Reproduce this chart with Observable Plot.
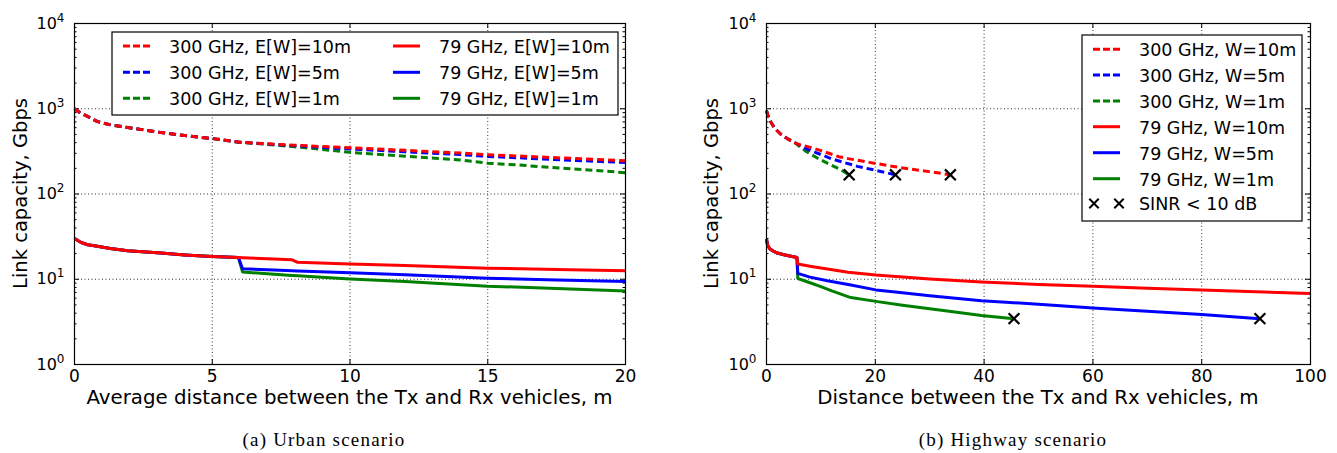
<!DOCTYPE html>
<html>
<head>
<meta charset="utf-8">
<script src="https://cdn.jsdelivr.net/npm/d3@7"></script>
<script src="https://cdn.jsdelivr.net/npm/@observablehq/plot@0.6"></script>
<style>
  body { margin: 0; background: #fff; }
  #root { position: relative; width: 1337px; height: 453px; overflow: hidden; background: #fff; }
  .panel { position: absolute; top: 0; }
  #overlay { position: absolute; left: 0; top: 0; pointer-events: none; }
</style>
</head>
<body>
<div id="root"></div>
<script>
// ---------- axis ticks ----------
const yMajor = [1, 10, 100, 1000, 10000];
const yMinor = [2,3,4,5,6,7,8,9,20,30,40,50,60,70,80,90,200,300,400,500,600,700,800,900,2000,3000,4000,5000,6000,7000,8000,9000];
const urbanXTicks = [0, 5, 10, 15, 20];
const highwayXTicks = [0, 20, 40, 60, 80, 100];

// ---------- (a) Urban scenario ----------
const urbanDashX = [0, 0.2, 0.42, 0.84, 1.32, 1.93, 3.14, 4, 5, 6, 7, 8, 9, 10, 12, 14, 15, 16, 18, 20];
const urban300W10 = [1000, 900, 830, 706, 646, 603, 525, 485, 447, 405, 388, 373, 360, 349, 325, 303, 289, 280, 262, 246];
const urban300W5  = [1000, 900, 830, 706, 646, 603, 525, 485, 447, 405, 386, 368, 352, 338, 312, 290, 276, 267, 249, 234];
const urban300W1  = [1000, 900, 830, 706, 646, 603, 525, 485, 447, 403, 382, 358, 333, 308, 278, 250, 230, 220, 198, 178];

const urbanSolidX = [0, 0.24, 0.48, 0.72, 1.3, 1.93, 3.14, 4, 5, 5.95, 6.1, 7, 7.9, 8.1, 10, 12, 15, 17.5, 20];
const urban79W10 = [30, 27, 25.4, 24.7, 23, 21.6, 20.3, 19.3, 18.5, 18.0, 17.9, 17.4, 16.9, 15.8, 15.1, 14.5, 13.5, 13.0, 12.6];
const urban79W5  = [30, 27, 25.4, 24.7, 23, 21.6, 20.3, 19.3, 18.5, 18.0, 13.3, 12.9, 12.6, 12.5, 11.9, 11.3, 10.3, 9.8, 9.4];
const urban79W1  = [30, 27, 25.4, 24.7, 23, 21.6, 20.3, 19.3, 18.5, 18.0, 12.2, 11.6, 11.1, 11.0, 10.1, 9.4, 8.3, 7.8, 7.3];

// ---------- (b) Highway scenario ----------
const hw300W10X = [0, 0.3, 0.8, 1.5, 2.58, 4, 5.66, 8.1, 10, 13.3, 15, 18.9, 24.4, 29.9, 33.8];
const hw300W10  = [950, 820, 700, 590, 506, 440, 386, 352, 323, 274, 260, 235, 205, 183, 168];
const hw300W5X  = [0, 0.3, 0.8, 1.5, 2.58, 4, 5.66, 7.5, 10, 12.1, 16.7, 20, 22.3, 23.7];
const hw300W5   = [950, 820, 700, 590, 506, 440, 386, 335, 290, 257, 211, 190, 176, 168];
const hw300W1X  = [0, 0.3, 0.8, 1.5, 2.58, 4, 5.2, 7.2, 9.35, 11.5, 13.65, 15.2];
const hw300W1   = [950, 820, 700, 590, 506, 440, 400, 318, 264, 224, 193, 168];

const hw79W10X = [0, 0.1, 0.25, 0.6, 1.35, 2, 3.2, 4.5, 5.6, 5.75, 8, 11.2, 15, 20.1, 30, 39.5, 50, 60, 70, 80, 90, 100];
const hw79W10  = [29.6, 27, 24.7, 22.8, 21.2, 20.3, 19.4, 18.6, 18.0, 15.1, 14.2, 13.2, 12.1, 11.2, 10.1, 9.3, 8.7, 8.25, 7.85, 7.5, 7.15, 6.8];
const hw79W5X  = [0, 0.1, 0.25, 0.6, 1.35, 2, 3.2, 4.5, 5.6, 5.75, 8, 11.2, 15.5, 20.1, 23.7, 30, 39.5, 50, 60, 70, 80, 90.7];
const hw79W5   = [29.6, 27, 24.7, 22.8, 21.2, 20.3, 19.4, 18.6, 18.0, 11.7, 10.6, 9.6, 8.55, 7.5, 7.1, 6.4, 5.6, 5.1, 4.6, 4.2, 3.85, 3.45];
const hw79W1X  = [0, 0.1, 0.25, 0.6, 1.35, 2, 3.2, 4.5, 5.6, 5.75, 8, 10, 12, 15.5, 20.1, 25, 30, 35, 39.5, 45.5];
const hw79W1   = [29.6, 27, 24.7, 22.8, 21.2, 20.3, 19.4, 18.6, 18.0, 10.2, 9.1, 8.2, 7.3, 6.1, 5.5, 4.95, 4.5, 4.1, 3.75, 3.45];

const crossX = [15.2, 23.7, 33.8, 45.5, 90.7];
const crossY = [168, 168, 168, 3.45, 3.45];

// ---------- labels ----------
const urbanLegend = ["300 GHz, E[W]=10m", "300 GHz, E[W]=5m", "300 GHz, E[W]=1m", "79 GHz, E[W]=10m", "79 GHz, E[W]=5m", "79 GHz, E[W]=1m"];
const highwayLegend = ["300 GHz, W=10m", "300 GHz, W=5m", "300 GHz, W=1m", "79 GHz, W=10m", "79 GHz, W=5m", "79 GHz, W=1m", "SINR < 10 dB"];
const colors = ["#ff0000", "#0000ff", "#008000"];
const DASH = "7,4";

const root = document.getElementById("root");
const H = 410, MT = 23, MB = 46;

function toRows(xs, ys) { return xs.map((x, i) => ({x, y: ys[i]})); }

function panel({left, width, marginLeft, marginRight, xDomain, xTicks, series, crosses}) {
  const iw = width - marginLeft - marginRight, ih = H - MT - MB;
  const grid = {stroke: "#000", strokeOpacity: 0.8, strokeDasharray: "1,2.5", strokeWidth: 1};
  const marks = [
    Plot.gridX(xTicks, grid),
    Plot.gridY(yMajor, grid),
    Plot.tickY(yMinor, {y: d => d, insetRight: iw - 2.5, stroke: "#000"}),
    Plot.tickY(yMinor, {y: d => d, insetLeft: iw - 2.5, stroke: "#000"}),
    Plot.tickY(yMajor, {y: d => d, insetRight: iw - 5, stroke: "#000"}),
    Plot.tickY(yMajor, {y: d => d, insetLeft: iw - 5, stroke: "#000"}),
    Plot.tickX(xTicks, {x: d => d, insetTop: ih - 5, stroke: "#000"}),
    Plot.tickX(xTicks, {x: d => d, insetBottom: ih - 5, stroke: "#000"}),
    ...series.map(s => Plot.line(toRows(s.x, s.y), {
      x: "x", y: "y", stroke: s.color, strokeWidth: 3,
      strokeDasharray: s.dash ? DASH : null, strokeLinecap: "butt"
    }))
  ];
  if (crosses) marks.push(Plot.dot(toRows(crosses.x, crosses.y), {x: "x", y: "y", symbol: "times", r: 5, stroke: "#000", strokeWidth: 2.2}));
  marks.push(
    Plot.frame({stroke: "#000", strokeWidth: 1.2}),
    Plot.axisX({ticks: xTicks, tickSize: 0, tickPadding: 5, fontSize: 17, label: null, tickFormat: d => String(d)}),
    Plot.axisY({ticks: yMajor, tickSize: 0, tickPadding: 10, fontSize: 16, label: null, tickFormat: d => String(Math.round(Math.log10(d)))})
  );
  const svg = Plot.plot({
    width, height: H, marginLeft, marginRight, marginTop: MT, marginBottom: MB,
    x: {domain: xDomain},
    y: {type: "log", domain: [1, 10000]},
    style: {fontFamily: "DejaVu Sans", color: "#000", background: "transparent", overflow: "visible"},
    marks
  });
  d3.select(svg).selectAll('g[aria-label="y-axis tick label"] text').each(function () {
    const e = this.textContent;
    const t = d3.select(this);
    t.text("10");
    t.append("tspan").attr("dy", "-7").attr("font-size", "12px").text(e);
  });
  const div = document.createElement("div");
  div.className = "panel";
  div.style.left = left + "px";
  div.appendChild(svg);
  root.appendChild(div);
}

panel({
  left: 0, width: 668, marginLeft: 74, marginRight: 43,
  xDomain: [0, 20], xTicks: urbanXTicks,
  series: [
    {x: urbanDashX, y: urban300W1, color: colors[2], dash: true},
    {x: urbanDashX, y: urban300W5, color: colors[1], dash: true},
    {x: urbanDashX, y: urban300W10, color: colors[0], dash: true},
    {x: urbanSolidX, y: urban79W1, color: colors[2]},
    {x: urbanSolidX, y: urban79W5, color: colors[1]},
    {x: urbanSolidX, y: urban79W10, color: colors[0]}
  ]
});

panel({
  left: 668, width: 669, marginLeft: 98, marginRight: 27,
  xDomain: [0, 100], xTicks: highwayXTicks,
  series: [
    {x: hw300W1X, y: hw300W1, color: colors[2], dash: true},
    {x: hw300W5X, y: hw300W5, color: colors[1], dash: true},
    {x: hw300W10X, y: hw300W10, color: colors[0], dash: true},
    {x: hw79W1X, y: hw79W1, color: colors[2]},
    {x: hw79W5X, y: hw79W5, color: colors[1]},
    {x: hw79W10X, y: hw79W10, color: colors[0]}
  ],
  crosses: {x: crossX, y: crossY}
});

// ---------- overlay: axis titles, legends, captions ----------
const ov = d3.select(root).append("svg").attr("id", "overlay").attr("width", 1337).attr("height", 453)
  .style("font-family", "DejaVu Sans");

function axisTitles(cx, text, yx, ytext) {
  ov.append("text").attr("x", cx).attr("y", 404).attr("text-anchor", "middle").attr("font-size", 19.8).text(text);
  ov.append("text").attr("transform", `translate(${yx},193.5) rotate(-90)`).attr("text-anchor", "middle").attr("font-size", 19.5).text(ytext);
}
axisTitles(349.5, "Average distance between the Tx and Rx vehicles, m", 26.5, "Link capacity, Gbps");
axisTitles(1038, "Distance between the Tx and Rx vehicles, m", 718, "Link capacity, Gbps");

function legend(box, items) {
  const g = ov.append("g");
  g.append("rect").attr("x", box.x).attr("y", box.y).attr("width", box.w).attr("height", box.h)
    .attr("fill", "#fff").attr("stroke", "#000").attr("stroke-width", 1.2);
  for (const it of items) {
    if (it.kind === "cross") {
      for (const cx of [it.sx + 1, it.sx + 26]) {
        g.append("path").attr("d", d3.symbol(d3.symbolTimes, 60)())
          .attr("transform", `translate(${cx},${it.y})`).attr("stroke", "#000").attr("stroke-width", 2).attr("fill", "none");
      }
    } else {
      g.append("line").attr("x1", it.sx).attr("x2", it.sx + 27).attr("y1", it.y).attr("y2", it.y)
        .attr("stroke", it.color).attr("stroke-width", 3).attr("stroke-dasharray", it.dash ? "7,3" : null);
    }
    g.append("text").attr("x", it.tx).attr("y", it.y + 6.8).attr("font-size", 17.5).text(it.label);
  }
}

const uRows = [46, 72.3, 98.3];
legend({x: 112, y: 32, w: 506, h: 83}, [
  ...[0, 1, 2].map(i => ({sx: 123, tx: 169, y: uRows[i], color: colors[i], dash: true, label: urbanLegend[i]})),
  ...[0, 1, 2].map(i => ({sx: 393, tx: 439, y: uRows[i], color: colors[i], dash: false, label: urbanLegend[i + 3]}))
]);

const hRows = [49.3, 75, 101, 126.7, 152.7, 178.7, 203.5];
legend({x: 1082, y: 35, w: 220, h: 186}, [
  ...[0, 1, 2].map(i => ({sx: 1093, tx: 1139, y: hRows[i], color: colors[i], dash: true, label: highwayLegend[i]})),
  ...[0, 1, 2].map(i => ({sx: 1093, tx: 1139, y: hRows[i + 3], color: colors[i], dash: false, label: highwayLegend[i + 3]})),
  {kind: "cross", sx: 1093, tx: 1139, y: hRows[6], label: highwayLegend[6]}
]);

ov.append("text").attr("x", 324).attr("y", 446).attr("text-anchor", "middle")
  .attr("font-family", "Liberation Serif").attr("font-size", 19).attr("letter-spacing", 1.2).text("(a) Urban scenario");
ov.append("text").attr("x", 1013).attr("y", 446).attr("text-anchor", "middle")
  .attr("font-family", "Liberation Serif").attr("font-size", 19).attr("letter-spacing", 1.2).text("(b) Highway scenario");
</script>
</body>
</html>
